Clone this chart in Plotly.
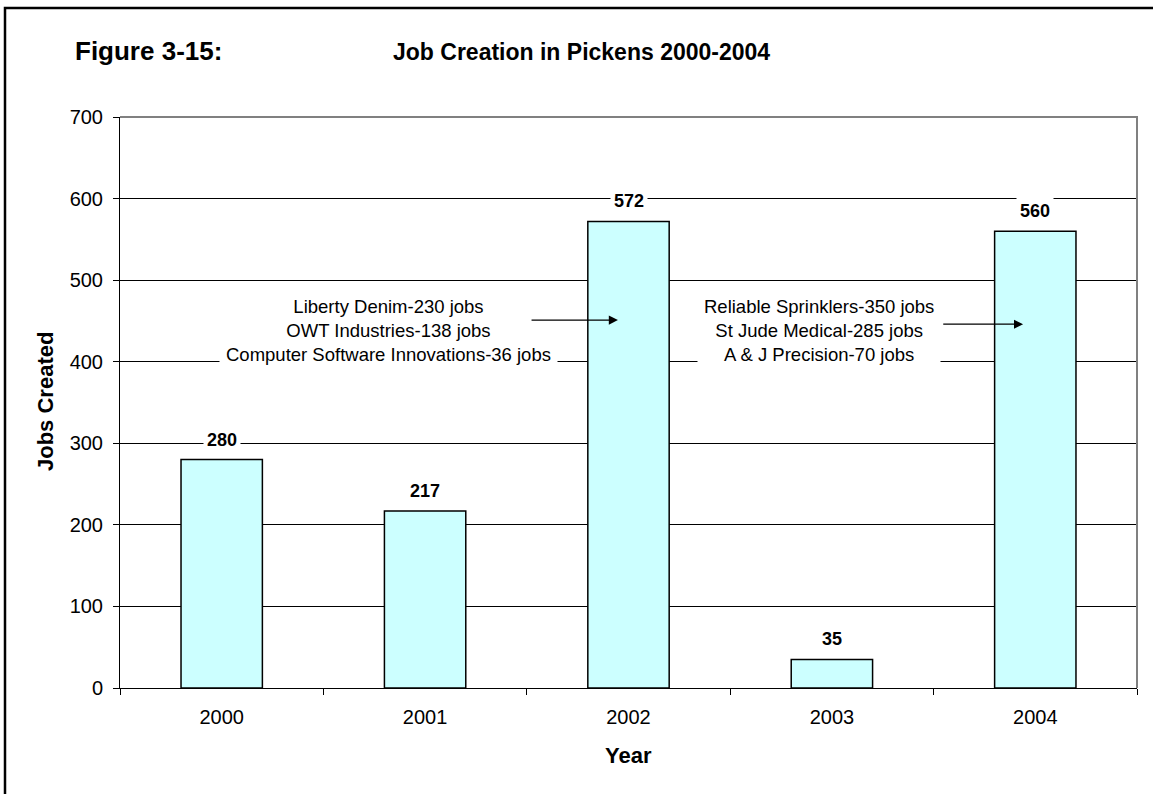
import plotly.graph_objects as go

# Jobs created per year
years = [2000, 2001, 2002, 2003, 2004]
jobs = [280, 217, 572, 35, 560]

y_ticks = [0, 100, 200, 300, 400, 500, 600, 700]

note_2002 = ["Liberty Denim-230 jobs", "OWT Industries-138 jobs",
             "Computer Software Innovations-36 jobs"]
note_2004 = ["Reliable Sprinklers-350 jobs", "St Jude Medical-285 jobs",
             "A & J Precision-70 jobs"]

W, H = 1153, 794
L, R, T, B = 120, 16, 117, 106
PW, PH = W - L - R, H - T - B

FONT = "Arial, Liberation Sans, sans-serif"


def px(x):
    return (x - L) / PW


def py(y):
    return (H - B - y) / PH


fig = go.Figure(
    go.Bar(
        x=years,
        y=jobs,
        width=0.4,
        marker=dict(color="#CCFFFF", line=dict(color="black", width=1.5)),
        hoverinfo="skip",
    )
)

annotations = []

# value labels above the bars
for yr, v in zip(years, jobs):
    annotations.append(dict(
        x=yr, y=v, xref="x", yref="y", text=f"<b>{v}</b>", showarrow=False,
        yanchor="middle", yshift=20, bgcolor="white", borderpad=3,
        font=dict(family=FONT, size=18, color="black"),
    ))

# company breakdown notes
for xv, lines in [(2000.822, note_2002), (2002.936, note_2004)]:
    annotations.append(dict(
        x=xv, y=438, xref="x", yref="y", text="<br>".join(lines),
        showarrow=False, align="center", bgcolor="white", borderpad=6,
        font=dict(family=FONT, size=18.5, color="black"),
    ))

# arrows pointing into the bars
for tail, tip, yv in [(2001.516, 2001.948, 451), (2003.54, 2003.94, 446)]:
    annotations.append(dict(
        x=tip, y=yv, ax=tail, ay=yv, xref="x", yref="y", axref="x", ayref="y",
        text="", showarrow=True, arrowhead=2, arrowsize=1.4, arrowwidth=1.3,
        arrowcolor="black",
    ))

# headings and axis titles
annotations += [
    dict(x=px(73), y=py(51), xref="paper", yref="paper", xanchor="left",
         yanchor="middle", text="<b>Figure 3-15:</b>", showarrow=False,
         font=dict(family=FONT, size=26, color="black")),
    dict(x=px(581), y=py(52), xref="paper", yref="paper", xanchor="center",
         yanchor="middle", text="<b>Job Creation in Pickens 2000-2004</b>",
         showarrow=False, font=dict(family=FONT, size=23, color="black")),
    dict(x=px(45), y=py(402), xref="paper", yref="paper", xanchor="center",
         yanchor="middle", text="<b>Jobs Created</b>", textangle=-90,
         showarrow=False, font=dict(family=FONT, size=22, color="black")),
    dict(x=px(628.5), y=py(755), xref="paper", yref="paper", xanchor="center",
         yanchor="middle", text="<b>Year</b>", showarrow=False,
         font=dict(family=FONT, size=22, color="black")),
]

shapes = [
    # outer frame (left and top edges)
    dict(type="path", xref="paper", yref="paper",
         path=f"M {px(5)} {py(H + 5)} L {px(5)} {py(8)} L {px(W + 5)} {py(8)}",
         line=dict(color="black", width=2.5)),
    # plot-area frame on top and right
    dict(type="path", xref="paper", yref="paper",
         path="M 0 1 L 1 1 L 1 0",
         line=dict(color="#808080", width=2)),
]

fig.update_layout(
    width=W, height=H,
    margin=dict(l=L, r=R, t=T, b=B, pad=0),
    paper_bgcolor="white", plot_bgcolor="white",
    showlegend=False,
    font=dict(family=FONT, color="black"),
    annotations=annotations, shapes=shapes,
)

boundaries = [y - 0.5 for y in years] + [years[-1] + 0.5]

fig.update_xaxes(
    range=[years[0] - 0.5, years[-1] + 0.5], tickvals=years,
    ticktext=[str(y) for y in years], ticks="",
    minor=dict(tickvals=boundaries, ticks="outside", ticklen=6,
               tickcolor="black", showgrid=False),
    showline=True, linecolor="black", linewidth=1,
    showgrid=False, zeroline=False,
    tickfont=dict(family=FONT, size=20, color="black"),
    ticklabelstandoff=11,
)
fig.update_yaxes(
    range=[0, 700], tickvals=y_ticks, ticks="outside", ticklen=6,
    tickcolor="black", showline=True, linecolor="black", linewidth=1,
    showgrid=True, gridcolor="black", gridwidth=1, zeroline=False,
    tickfont=dict(family=FONT, size=20, color="black"),
    ticklabelstandoff=6,
)

fig.write_html("out.html")
